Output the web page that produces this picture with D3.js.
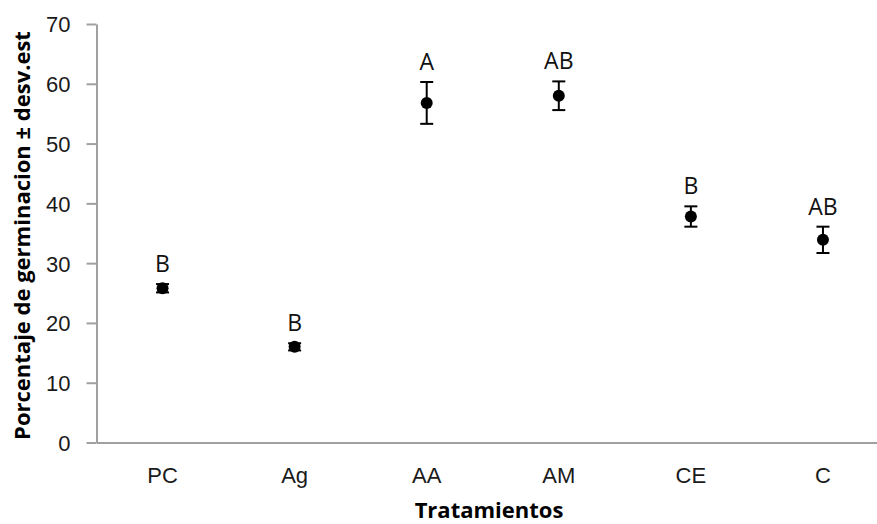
<!DOCTYPE html>
<html>
<head>
<meta charset="utf-8">
<script src="https://cdn.jsdelivr.net/npm/d3@7"></script>
<style>
  body { margin: 0; background: #fff; }
  svg { display: block; font-family: "Open Sans", sans-serif; }
  .axis path, .axis line { stroke: #a0a0a0; stroke-width: 2; }
  .axis text { font-size: 22px; fill: #1a1a1a; }
</style>
</head>
<body>
<svg id="chart"></svg>
<script>
// data
const categories = ["PC", "Ag", "AA", "AM", "CE", "C"];
const means = [25.8, 16.0, 56.8, 58.0, 37.8, 33.9];
const stdDevs = [0.7, 0.6, 3.5, 2.4, 1.7, 2.2];
const letters = ["B", "B", "A", "AB", "B", "AB"];
const yTicks = [0, 10, 20, 30, 40, 50, 60, 70];

const width = 877, height = 524;
const margin = { top: 24, right: -12, bottom: 81.5, left: 96.5 };

const svg = d3.select("#chart")
    .attr("width", width)
    .attr("height", height);

const x = d3.scaleBand()
    .domain(categories)
    .range([margin.left, width - margin.right])
    .padding(0);

const y = d3.scaleLinear()
    .domain([0, 70])
    .range([height - margin.bottom, margin.top]);

const points = categories.map((c, i) => ({
    cat: c, mean: means[i], sd: stdDevs[i], letter: letters[i]
}));

// y axis
const yAxis = svg.append("g")
    .attr("class", "axis y")
    .attr("transform", `translate(${margin.left},0)`)
    .call(d3.axisLeft(y).tickValues(yTicks).tickSize(10).tickSizeOuter(0).tickPadding(16));
yAxis.selectAll("text").attr("dy", "0.36em");

// x axis
const xAxis = svg.append("g")
    .attr("class", "axis x")
    .attr("transform", `translate(0,${y(0)})`)
    .call(d3.axisBottom(x).tickSize(0).tickSizeOuter(0));
xAxis.selectAll("text").attr("y", 40).attr("dy", 0);

// error bars
const capW = 6.5;
const bars = svg.append("g").attr("class", "errors")
    .selectAll("g")
    .data(points)
    .join("g")
    .attr("transform", d => `translate(${x(d.cat) + x.bandwidth() / 2},0)`);

bars.append("line")
    .attr("y1", d => y(d.mean + d.sd))
    .attr("y2", d => y(d.mean - d.sd))
    .attr("stroke", "#000")
    .attr("stroke-width", 2);

bars.selectAll("line.cap")
    .data(d => [d.mean + d.sd, d.mean - d.sd])
    .join("line")
    .attr("class", "cap")
    .attr("x1", -capW)
    .attr("x2", capW)
    .attr("y1", v => y(v))
    .attr("y2", v => y(v))
    .attr("stroke", "#000")
    .attr("stroke-width", 2);

bars.append("circle")
    .attr("cy", d => y(d.mean))
    .attr("r", 6)
    .attr("fill", "#000");

// significance letters
bars.append("text")
    .attr("y", d => y(d.mean + d.sd) - 12)
    .attr("text-anchor", "middle")
    .attr("font-size", 23)
    .attr("fill", "#111")
    .text(d => d.letter);

// axis titles
svg.append("text")
    .attr("x", 489)
    .attr("y", 518)
    .attr("text-anchor", "middle")
    .attr("font-size", 22)
    .attr("font-weight", "bold")
    .attr("fill", "#000")
    .text("Tratamientos");

svg.append("text")
    .attr("transform", "rotate(-90)")
    .attr("x", -235.5)
    .attr("y", 30)
    .attr("text-anchor", "middle")
    .attr("font-size", 22)
    .attr("font-weight", "bold")
    .attr("fill", "#000")
    .text("Porcentaje de germinacion ± desv.est");
</script>
</body>
</html>
